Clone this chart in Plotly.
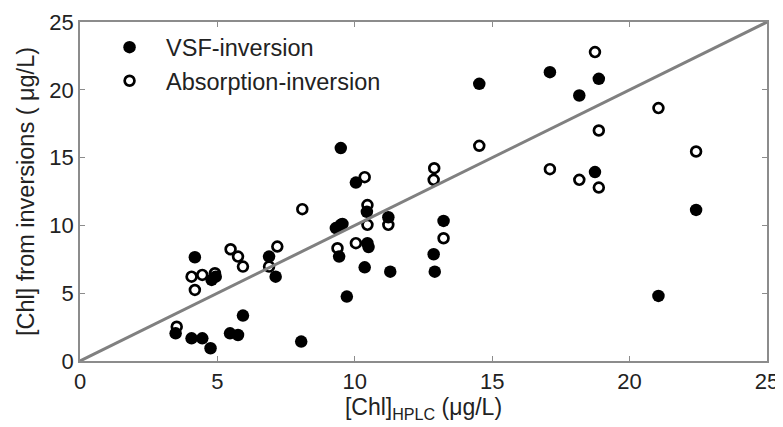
import plotly.graph_objects as go

# VSF-inversion (filled)
vsf_x = [4.18, 4.79, 4.94, 6.88, 7.12, 3.48, 4.06, 4.45, 4.75, 5.46, 5.75, 5.93, 8.05,
         9.49, 10.04, 10.44, 11.22, 9.49, 9.31, 9.43, 10.46, 10.50, 10.36, 11.29, 9.71,
         13.23, 12.87, 12.91, 14.53, 17.10, 18.88, 18.17, 18.74, 22.42, 21.05]
vsf_y = [7.65, 5.98, 6.22, 7.70, 6.22, 2.04, 1.67, 1.67, 0.94, 2.04, 1.92, 3.35, 1.43,
         15.70, 13.16, 11.00, 10.60, 10.04, 9.80, 7.70, 8.69, 8.40, 6.91, 6.59, 4.75,
         10.33, 7.87, 6.59, 20.44, 21.30, 20.81, 19.58, 13.93, 11.14, 4.80]

# Absorption-inversion (open)
abs_x = [4.06, 4.45, 4.18, 4.91, 5.48, 5.75, 5.93, 7.18, 6.88, 3.52, 8.09, 10.36, 12.89,
         12.87, 14.53, 10.46, 10.46, 11.22, 9.55, 9.37, 10.04, 13.23, 18.74, 21.05,
         18.88, 22.42, 17.10, 18.17, 18.88]
abs_y = [6.22, 6.35, 5.24, 6.47, 8.24, 7.70, 6.96, 8.44, 6.96, 2.53, 11.20, 13.56, 14.22,
         13.36, 15.87, 11.50, 10.04, 10.04, 10.10, 8.32, 8.69, 9.05, 22.78, 18.65,
         17.00, 15.45, 14.15, 13.36, 12.79]

line_x = [0, 25]
line_y = [0, 25]

x_ticks = [0, 5, 10, 15, 20, 25]
y_ticks = [0, 5, 10, 15, 20, 25]

FONT = "Arial, Liberation Sans, sans-serif"
TXT = "#222222"

fig = go.Figure()
fig.add_trace(go.Scatter(
    x=vsf_x, y=vsf_y, mode="markers", name="VSF-inversion",
    marker=dict(symbol="circle", size=12.5, color="black", line=dict(width=0)),
))
fig.add_trace(go.Scatter(
    x=abs_x, y=abs_y, mode="markers", name="Absorption-inversion",
    marker=dict(symbol="circle-open", size=9.8, color="black", line=dict(width=2.7, color="black")),
))
fig.add_trace(go.Scatter(
    x=line_x, y=line_y, mode="lines", showlegend=False,
    line=dict(color="#808080", width=3), hoverinfo="skip",
))

axis_common = dict(
    range=[0, 25], showgrid=False, zeroline=False, automargin=False,
    showline=True, linecolor="#8c8c8c", linewidth=1.5, mirror="ticks",
    ticks="inside", ticklen=5, tickcolor="#8c8c8c", tickwidth=1,
    tickfont=dict(family=FONT, size=22, color=TXT),
)

# the page body adds an 8px offset, so the figure is sized to fit the window
fig.update_layout(
    width=775, height=419,
    margin=dict(l=72, r=16, t=14, b=66),
    paper_bgcolor="white", plot_bgcolor="white",
    font=dict(family=FONT, color=TXT),
    xaxis=dict(**axis_common, tickvals=x_ticks,
               title=dict(text="[Chl]<sub>HPLC</sub> (μg/L)", font=dict(family=FONT, size=23, color=TXT), standoff=5)),
    yaxis=dict(**axis_common, tickvals=y_ticks,
               title=dict(text="[Chl] from inversions ( μg/L)", font=dict(family=FONT, size=23.5, color=TXT), standoff=8)),
    legend=dict(x=0.019, y=0.99, xanchor="left", yanchor="top",
                bgcolor="rgba(0,0,0,0)", borderwidth=0,
                font=dict(family=FONT, size=23.5, color=TXT),
                itemwidth=63, tracegroupgap=0),
    showlegend=True,
)

fig.write_html("out.html")
